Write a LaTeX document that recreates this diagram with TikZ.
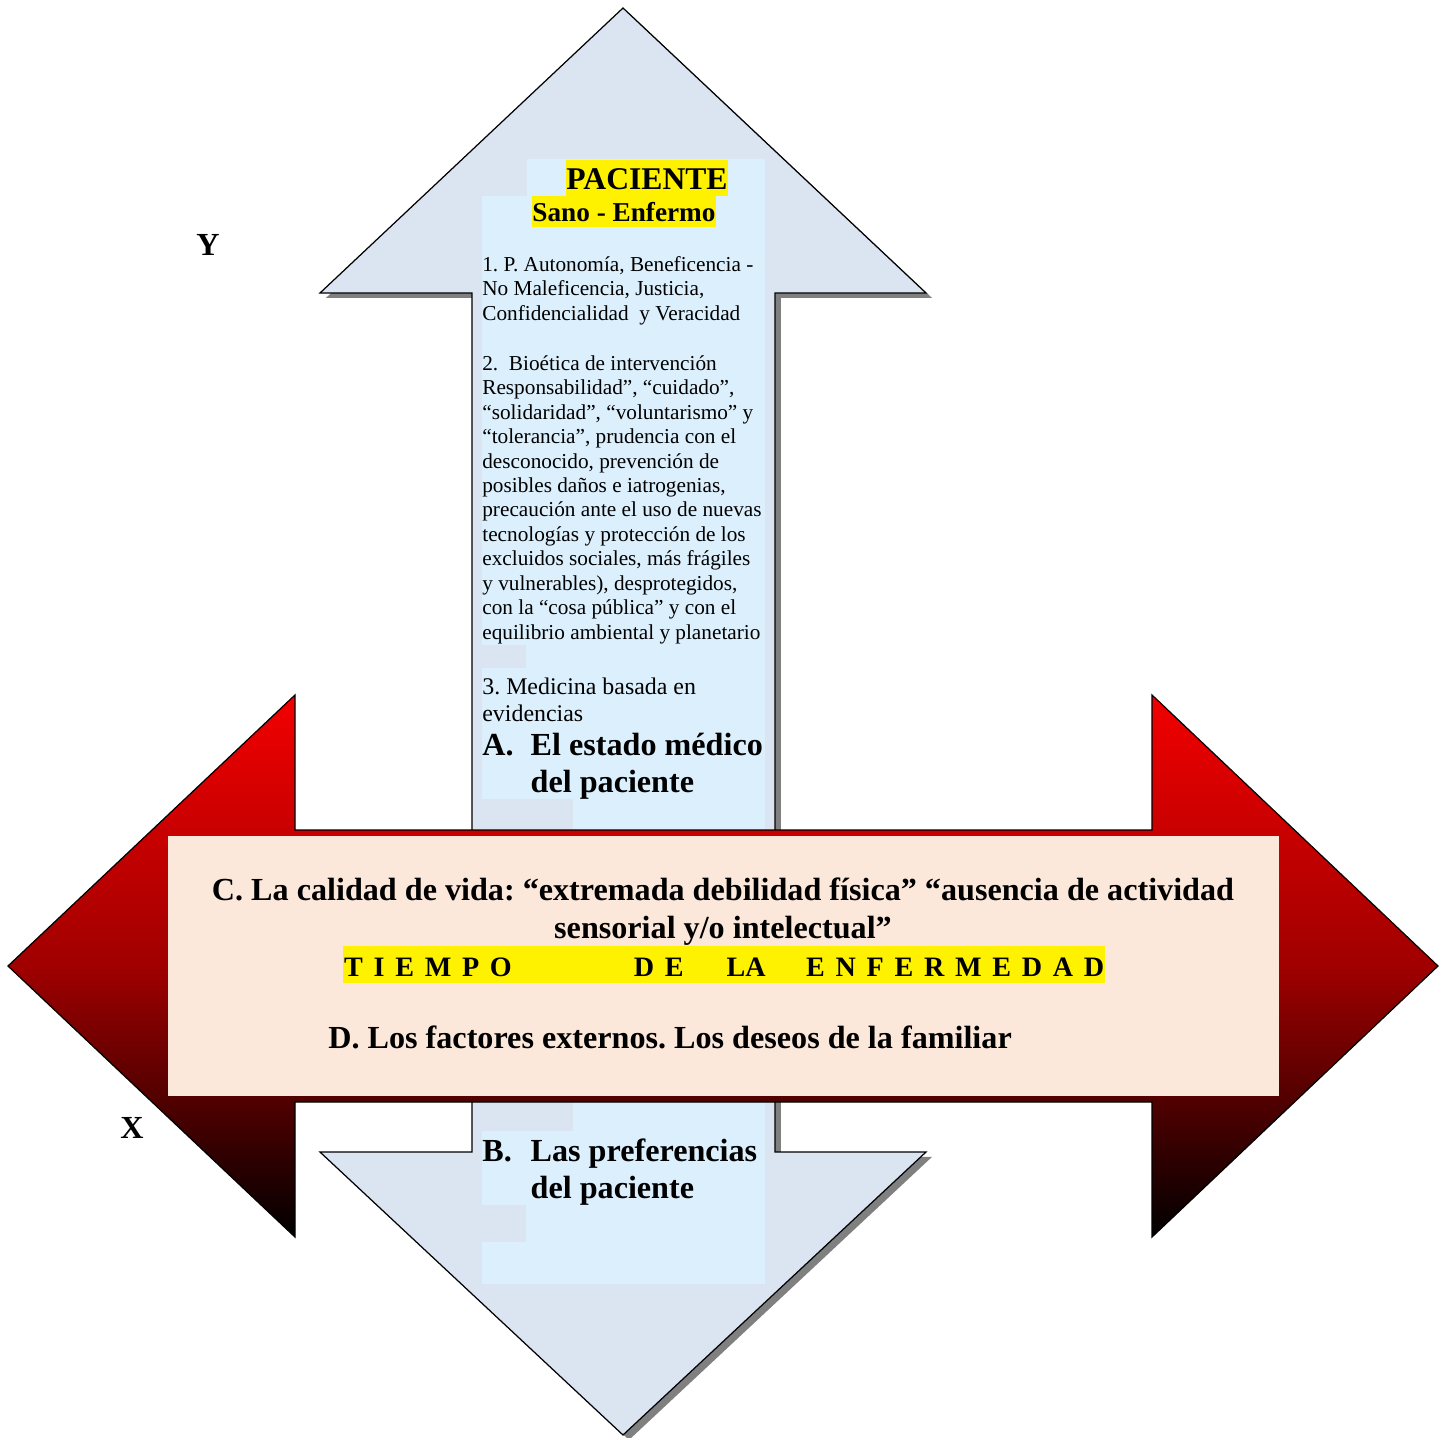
\documentclass[tikz,border=0pt]{standalone}
\usepackage{fontspec}
\setmainfont{Liberation Serif}
\usepackage{xcolor}
\usetikzlibrary{shadows}

\definecolor{flechaazul}{RGB}{219,228,241}
\definecolor{cajaazul}{RGB}{220,239,252}
\definecolor{durazno}{RGB}{252,232,218}
\definecolor{rojo}{RGB}{242,0,0}
\definecolor{rojomedio}{RGB}{160,0,0}

\begin{document}
\frenchspacing
\begin{tikzpicture}[x=0.02cm, y=-0.02cm,
    flecha/.style={draw=black, line width=0.7pt, line join=miter},
    texto/.style={anchor=base west, inner sep=0pt, align=left, font=\fontsize{12.1}{13.9}\selectfont},
    negrita/.style={anchor=base west, inner sep=0pt, align=left, font=\bfseries\fontsize{18.3}{21}\selectfont},
    marca/.style={fill=yellow, inner sep=0pt}]
    \useasboundingbox (0,0) rectangle (1447,1437);

    % 1. Flecha vertical (azul, con sombra)
    \draw[flecha, fill=flechaazul, drop shadow={shadow xshift=3.4pt, shadow yshift=-2.8pt, fill=black!50, opacity=1}]
        (623,8) -- (926,293) -- (775,293) -- (775,1152) -- (926,1152) -- (623,1435)
        -- (320,1152) -- (472,1152) -- (472,293) -- (320,293) -- cycle;
    \fill[cajaazul] (527,159) rectangle (765,196);
    \fill[cajaazul] (482,196) rectangle (765,1284);
    \foreach \ya/\xb/\yb in {645/526/668, 799/573/830, 1102/573/1131, 1205/526/1242}
        \fill[flechaazul] (482,\ya) rectangle (\xb,\yb);

    % 2. Textos de la flecha vertical (base = ultima linea)
    \node[marca, anchor=base, text height=16.6pt, text depth=4pt, font=\bfseries\fontsize{18}{21}\selectfont]
        (paciente) at (647,189) {PACIENTE};
    \node[marca, anchor=base, text height=14.2pt, text depth=3.4pt, font=\bfseries\fontsize{15.5}{18}\selectfont]
        (sano) at (624,221) {Sano - Enfermo};
    \node[texto] (p1) at (482,320) {1. P. Autonomía, Beneficencia -\\No Maleficencia, Justicia,\\Confidencialidad\ \ y Veracidad};
    \node[texto] (p2) at (482,639) {2.\ \ Bioética de intervención\\Responsabilidad”, “cuidado”,\\“solidaridad”, “voluntarismo” y\\“tolerancia”, prudencia con el\\desconocido, prevención de\\posibles daños e iatrogenias,\\precaución ante el uso de nuevas\\tecnologías y protección de los\\excluidos sociales, más frágiles\\y vulnerables), desprotegidos,\\con la “cosa pública” y con el\\equilibrio ambiental y planetario};
    \node[texto, font=\fontsize{13.6}{15.3}\selectfont] (p3) at (482,721) {3. Medicina basada en\\evidencias};
    \node[negrita] (estadoA) at (482,792) {\makebox[27.5pt][l]{A.}El estado médico\\\hspace*{27.5pt}del paciente};

    % 3. Flecha horizontal (roja)
    \shadedraw[flecha, top color=rojo, bottom color=black, middle color=rojomedio]
        (8,966) -- (295,695) -- (295,830) -- (1152,830) -- (1152,695) -- (1438,966)
        -- (1152,1237) -- (1152,1102) -- (295,1102) -- (295,1237) -- cycle;
    \fill[durazno] (168,836) rectangle (1279,1096);

    % 4. Textos del recuadro central
    \node[negrita, anchor=base, align=center, font=\bfseries\fontsize{18.3}{21.5}\selectfont] (calidadC) at (723,938)
        {C. La calidad de vida: “extremada debilidad física” “ausencia de actividad\\sensorial y/o intelectual”};
    \node[marca, anchor=base west, text height=17pt, text depth=4pt, inner xsep=0.5pt,
          font=\bfseries\fontsize{16}{19}\selectfont]
        (tiempo) at (343,976) {\spaceskip=6.1pt\relax T I E M P O\hspace{69.5pt}D E\hspace{24.5pt}LA\hspace{23pt}E N F E R M E D A D};
    \node[negrita] (factoresD) at (328,1048) {D. Los factores externos. Los deseos de la familiar};
    \node[negrita] (prefB) at (482,1198) {\makebox[27.5pt][l]{B.}Las preferencias\\\hspace*{27.5pt}del paciente};

    % 5. Ejes
    \node[negrita] (ejeY) at (196,255) {Y};
    \node[negrita] (ejeX) at (120,1138) {X};
\end{tikzpicture}
\end{document}
